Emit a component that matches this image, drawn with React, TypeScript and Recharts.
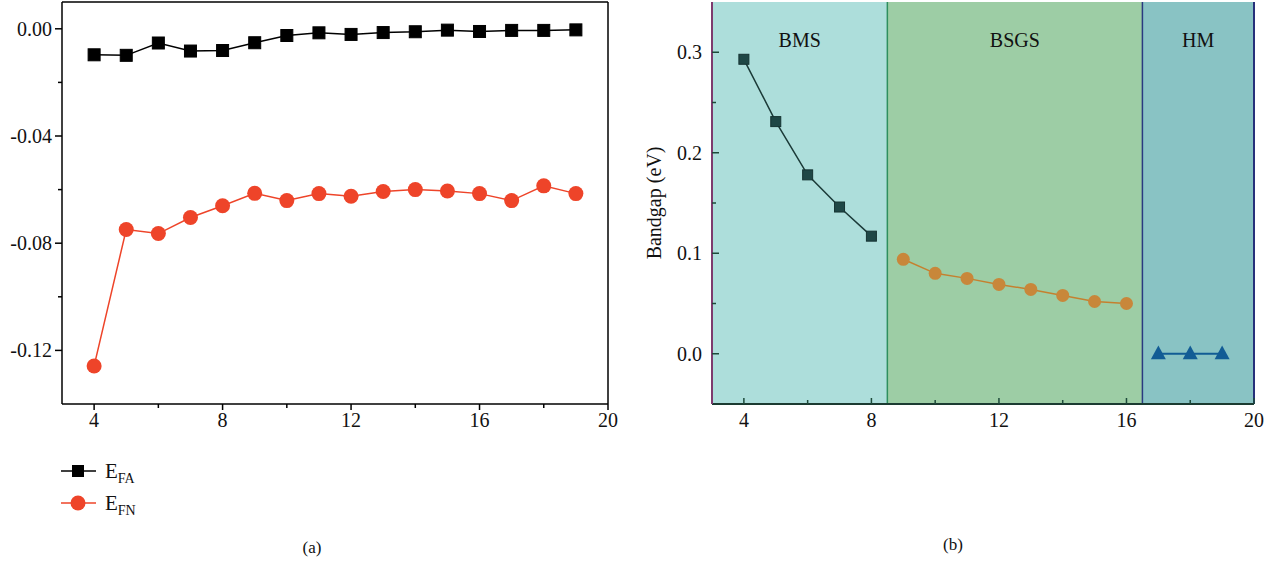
import React from "react"
import { LineChart, Line, XAxis, YAxis, ReferenceArea, ReferenceLine, Label } from "recharts"

const FONT = "'Liberation Serif', 'Times New Roman', serif"

// panel (a)
const sizes = [4, 5, 6, 7, 8, 9, 10, 11, 12, 13, 14, 15, 16, 17, 18, 19]
const efa = [-0.0097, -0.0099, -0.0053, -0.0083, -0.0081, -0.0052, -0.0025, -0.0015, -0.0021, -0.0014, -0.0011, -0.0005, -0.001, -0.0006, -0.0006, -0.0004]
const efn = [-0.1258, -0.0749, -0.0764, -0.0704, -0.066, -0.0614, -0.0641, -0.0615, -0.0625, -0.0607, -0.06, -0.0605, -0.0615, -0.0641, -0.0586, -0.0615]

// panel (b)
const bmsX = [4, 5, 6, 7, 8]
const bmsGap = [0.293, 0.231, 0.178, 0.146, 0.117]
const bsgsX = [9, 10, 11, 12, 13, 14, 15, 16]
const bsgsGap = [0.094, 0.08, 0.075, 0.069, 0.064, 0.058, 0.052, 0.05]
const hmX = [17, 18, 19]
const hmGap = [0, 0, 0]

const xMajor = [4, 8, 12, 16, 20]
const xMinor = [6, 10, 14, 18]
const leftYMajor = [-0.12, -0.08, -0.04, 0]
const leftYMinor = [-0.1, -0.06, -0.02]
const rightYMajor = [0, 0.1, 0.2, 0.3]
const rightYMinor = [0.05, 0.15, 0.25]

const regions = [
  { name: "BMS", from: 3, to: 8.5, fill: "#addedb" },
  { name: "BSGS", from: 8.5, to: 16.5, fill: "#9dcda5" },
  { name: "HM", from: 16.5, to: 20, fill: "#89c3c4" },
]

const leftData = sizes.map((n, i) => ({ n, efa: efa[i], efn: efn[i] }))
const bmsData = bmsX.map((n, i) => ({ n, gap: bmsGap[i] }))
const bsgsData = bsgsX.map((n, i) => ({ n, gap: bsgsGap[i] }))
const hmData = hmX.map((n, i) => ({ n, gap: hmGap[i] }))

const isIn = (list: number[], v: number) => list.some((m) => Math.abs(m - v) < 1e-9)

const xTick = (inside: boolean, color: string) => (props: any) => {
  const { x, y, payload } = props
  const major = isIn(xMajor, payload.value)
  const len = major ? 6 : 4
  return (
    <g>
      <line x1={x} x2={x} y1={y} y2={inside ? y - len : y + len} stroke={color} strokeWidth={1.5} />
      {major && (
        <text x={x} y={y + 23} textAnchor="middle" fontSize={20} fontFamily={FONT} fill="#111">
          {payload.value}
        </text>
      )}
    </g>
  )
}

const yTick = (inside: boolean, color: string, majors: number[], digits: number) => (props: any) => {
  const { x, y, payload } = props
  const major = isIn(majors, payload.value)
  const len = major ? 7 : 4
  return (
    <g>
      <line x1={x} x2={inside ? x + len : x - len} y1={y} y2={y} stroke={color} strokeWidth={1.5} />
      {major && (
        <text x={x - 10} y={y + 7} textAnchor="end" fontSize={20} fontFamily={FONT} fill="#111">
          {payload.value.toFixed(digits)}
        </text>
      )}
    </g>
  )
}

const squareDot = (size: number, fill: string, stroke: string) => (props: any) => {
  const { cx, cy, index } = props
  return <rect key={index} x={cx - size / 2} y={cy - size / 2} width={size} height={size} fill={fill} stroke={stroke} strokeWidth={1} />
}

const circleDot = (r: number, fill: string) => (props: any) => {
  const { cx, cy, index } = props
  return <circle key={index} cx={cx} cy={cy} r={r} fill={fill} />
}

const triangleDot = (size: number, fill: string) => (props: any) => {
  const { cx, cy, index } = props
  const h = size * 0.85
  return <polygon key={index} points={`${cx},${cy - h / 2 - 2} ${cx - size / 2},${cy + h / 2 - 1} ${cx + size / 2},${cy + h / 2 - 1}`} fill={fill} />
}

const legendItems = [
  { sub: "FA", color: "#000000", shape: "square" },
  { sub: "FN", color: "#ee4429", shape: "circle" },
]

export default function App() {
  return (
    <div style={{ position: "absolute", left: 0, top: 0, width: 1275, height: 563, background: "#fff" }}>
      <div style={{ position: "absolute", left: 0, top: 0 }}>
        <LineChart width={640} height={440} data={leftData} margin={{ top: 2, right: 32, bottom: 0, left: 0 }}>
          <XAxis
            dataKey="n"
            type="number"
            domain={[3, 20]}
            ticks={[...xMajor, ...xMinor].sort((a, b) => a - b)}
            interval={0}
            height={36}
            tickSize={0}
            tickMargin={0}
            tickLine={false}
            tick={xTick(false, "#000")}
            stroke="#000"
            strokeWidth={1.5}
            allowDataOverflow
          />
          <YAxis
            type="number"
            domain={[-0.14, 0.01]}
            ticks={[...leftYMajor, ...leftYMinor].sort((a, b) => a - b)}
            interval={0}
            width={62}
            tickSize={0}
            tickMargin={0}
            tickLine={false}
            tick={yTick(false, "#000", leftYMajor, 2)}
            stroke="#000"
            strokeWidth={1.5}
            allowDataOverflow
          />
          <ReferenceLine y={0.01} stroke="#000" strokeWidth={1.5} />
          <ReferenceLine x={20} stroke="#000" strokeWidth={1.5} />
          <Line dataKey="efa" stroke="#000" strokeWidth={1.5} dot={squareDot(12, "#000", "#000")} isAnimationActive={false} />
          <Line dataKey="efn" stroke="#ee4429" strokeWidth={1.5} dot={circleDot(7.5, "#ee4429")} isAnimationActive={false} />
        </LineChart>
      </div>

      <svg style={{ position: "absolute", left: 0, top: 440 }} width={640} height={123}>
        {legendItems.map((it, i) => {
          const cy = 31 + i * 32
          return (
            <g key={it.sub}>
              <line x1={61} x2={96} y1={cy} y2={cy} stroke={it.color} strokeWidth={1.5} />
              {it.shape === "square" ? (
                <rect x={72} y={cy - 6} width={12} height={12} fill={it.color} />
              ) : (
                <circle cx={78} cy={cy} r={7.5} fill={it.color} />
              )}
              <text x={105} y={cy + 7} fontSize={21} fontFamily={FONT} fill="#111">
                E<tspan fontSize={14} dy={5}>{it.sub}</tspan>
              </text>
            </g>
          )
        })}
        <text x={312} y={113} textAnchor="middle" fontSize={17} fontFamily={FONT} fill="#111">(a)</text>
      </svg>

      <div style={{ position: "absolute", left: 640, top: 0 }}>
        <LineChart width={635} height={440} margin={{ top: 2, right: 21, bottom: 0, left: 0 }}>
          {regions.map((r) => (
            <ReferenceArea
              key={r.name}
              x1={r.from}
              x2={r.to}
              fill={r.fill}
              fillOpacity={1}
              stroke="none"
              label={{ value: r.name, position: "insideTop", offset: 31, fill: "#111", fontSize: 20, fontFamily: FONT }}
            />
          ))}
          <ReferenceLine x={8.5} stroke="#2e8f5e" strokeWidth={1.5} />
          <ReferenceLine x={16.5} stroke="#2a3a80" strokeWidth={1.5} />
          <ReferenceLine x={20} stroke="#26307a" strokeWidth={2} />
          <XAxis
            dataKey="n"
            type="number"
            domain={[3, 20]}
            ticks={[...xMajor, ...xMinor].sort((a, b) => a - b)}
            interval={0}
            height={36}
            tickSize={0}
            tickMargin={0}
            tickLine={false}
            tick={xTick(true, "#1d4a3a")}
            stroke="#1b3b31"
            strokeWidth={2}
            allowDataOverflow
          />
          <YAxis
            type="number"
            domain={[-0.05, 0.35]}
            ticks={[...rightYMajor, ...rightYMinor].sort((a, b) => a - b)}
            interval={0}
            width={72}
            tickSize={0}
            tickMargin={0}
            tickLine={false}
            tick={yTick(true, "#1d4a3a", rightYMajor, 1)}
            stroke="#7d3a6e"
            strokeWidth={2}
            allowDataOverflow
          >
            <Label
              content={(p: any) => {
                const vb = p.viewBox || { x: 0, y: 2, width: 72, height: 402 }
                const cx = vb.x + 14
                const cy = vb.y + vb.height / 2
                return (
                  <text x={cx} y={cy} transform={`rotate(-90 ${cx} ${cy})`} textAnchor="middle" dominantBaseline="central" fontSize={20} fontFamily={FONT} fill="#111">
                    Bandgap (eV)
                  </text>
                )
              }}
            />
          </YAxis>
          <Line data={bmsData} dataKey="gap" stroke="#1b3a38" strokeWidth={1.5} dot={squareDot(10, "#1f4746", "#163433")} isAnimationActive={false} />
          <Line data={bsgsData} dataKey="gap" stroke="#c5802f" strokeWidth={1.5} dot={circleDot(6.5, "#c8873a")} isAnimationActive={false} />
          <Line data={hmData} dataKey="gap" stroke="#125c95" strokeWidth={2} dot={triangleDot(15, "#125c95")} isAnimationActive={false} />
        </LineChart>
      </div>

      <div style={{ position: "absolute", left: 953, top: 535, transform: "translateX(-50%)", fontFamily: FONT, fontSize: 17, color: "#111" }}>
        (b)
      </div>
    </div>
  )
}
